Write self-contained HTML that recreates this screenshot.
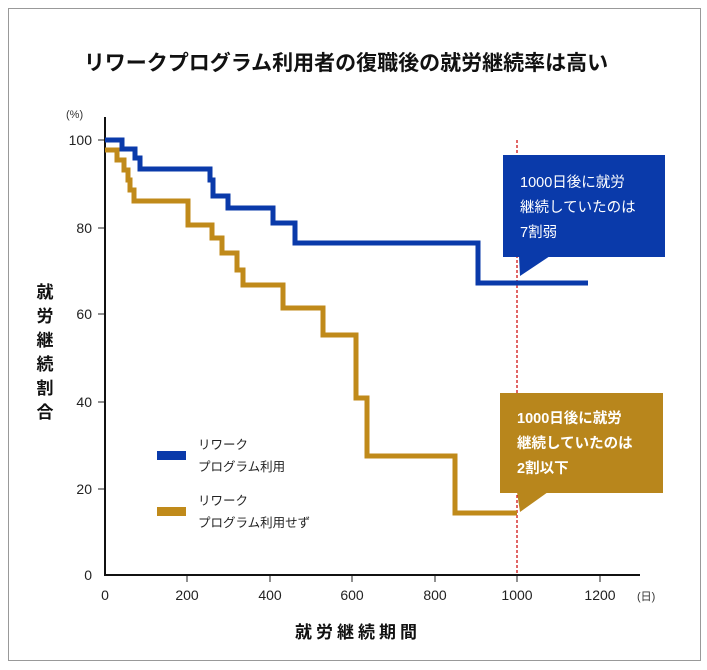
<!DOCTYPE html>
<html><head><meta charset="utf-8"><style>
body{margin:0;background:#fff;}
svg{display:block;font-family:"Liberation Sans","Noto Sans CJK JP",sans-serif;}
</style></head><body>
<svg width="707" height="670" viewBox="0 0 707 670">
<rect x="8.5" y="8.5" width="692" height="652" fill="#fff" stroke="#999" stroke-width="1"/>
<text x="346" y="70" text-anchor="middle" font-size="21" font-weight="bold" fill="#111" font-family="'Noto Sans CJK JP',sans-serif">リワークプログラム利用者の復職後の就労継続率は高い</text>
<text x="66" y="118" font-size="11" fill="#333">(%)</text>
<g font-size="14" fill="#222" text-anchor="end">
<text x="92" y="145">100</text><text x="92" y="233">80</text><text x="92" y="319">60</text><text x="92" y="407">40</text><text x="92" y="494">20</text><text x="92" y="580">0</text>
</g>
<g stroke="#222" stroke-width="1"><line x1="98" y1="140" x2="105" y2="140"/><line x1="98" y1="228" x2="105" y2="228"/><line x1="98" y1="314" x2="105" y2="314"/><line x1="98" y1="402" x2="105" y2="402"/><line x1="98" y1="489" x2="105" y2="489"/>
<line x1="187" y1="575" x2="187" y2="582"/><line x1="270" y1="575" x2="270" y2="582"/><line x1="352" y1="575" x2="352" y2="582"/><line x1="435" y1="575" x2="435" y2="582"/><line x1="517" y1="575" x2="517" y2="582"/><line x1="600" y1="575" x2="600" y2="582"/></g>
<line x1="105" y1="117" x2="105" y2="576" stroke="#111" stroke-width="2"/>
<line x1="104" y1="575" x2="640" y2="575" stroke="#111" stroke-width="2"/>
<g font-size="14" fill="#222" text-anchor="middle">
<text x="105" y="600">0</text><text x="187" y="600">200</text><text x="270" y="600">400</text><text x="352" y="600">600</text><text x="435" y="600">800</text><text x="517" y="600">1000</text><text x="600" y="600">1200</text>
</g>
<text x="637" y="600" font-size="11" fill="#333">(日)</text>
<text x="358" y="638" text-anchor="middle" font-size="17" font-weight="bold" fill="#111" letter-spacing="4">就労継続期間</text>
<g font-size="17" font-weight="bold" fill="#111" text-anchor="middle">
<text x="45" y="298">就</text><text x="45" y="322">労</text><text x="45" y="346">継</text><text x="45" y="370">続</text><text x="45" y="394">割</text><text x="45" y="418">合</text>
</g>
<line x1="517" y1="140" x2="517" y2="575" stroke="#c00" stroke-width="1.2" stroke-dasharray="3,2"/>
<polyline fill="none" stroke="#c08a1a" stroke-width="5" points="105,150 117,150 117,160 124,160 124,170 128,170 128,180 130,180 130,190 134,190 134,201 188,201 188,225 212,225 212,238 222,238 222,253 237,253 237,270 243,270 243,285 283,285 283,308 323,308 323,335 356,335 356,398 367,398 367,456 455,456 455,513 517,513"/>
<polyline fill="none" stroke="#0a3aaa" stroke-width="5" points="105,140 122,140 122,149 135,149 135,158 140,158 140,169 210,169 210,180 213,180 213,196 228,196 228,208 273,208 273,223 295,223 295,243 478,243 478,283 588,283"/>
<rect x="157" y="451" width="29" height="9" fill="#0a3aaa"/>
<rect x="157" y="507" width="29" height="9" fill="#c08a1a"/>
<g font-size="12.5" fill="#222">
<text x="198" y="449">リワーク</text><text x="198" y="471">プログラム利用</text>
<text x="198" y="505">リワーク</text><text x="198" y="527">プログラム利用せず</text>
</g>
<rect x="503" y="155" width="162" height="102" fill="#0a3aaa"/>
<polygon points="519,256 550,256 520,276" fill="#0a3aaa"/>
<g font-size="14.5" fill="#fff">
<text x="520" y="187">1000日後に就労</text><text x="520" y="212">継続していたのは</text><text x="520" y="237">7割弱</text>
</g>
<rect x="500" y="393" width="163" height="100" fill="#b8861c"/>
<polygon points="517,492 548,492 520,512" fill="#b8861c"/>
<g font-size="14.5" font-weight="bold" fill="#fff">
<text x="517" y="423">1000日後に就労</text><text x="517" y="448">継続していたのは</text><text x="517" y="473">2割以下</text>
</g>
</svg>
</body></html>
